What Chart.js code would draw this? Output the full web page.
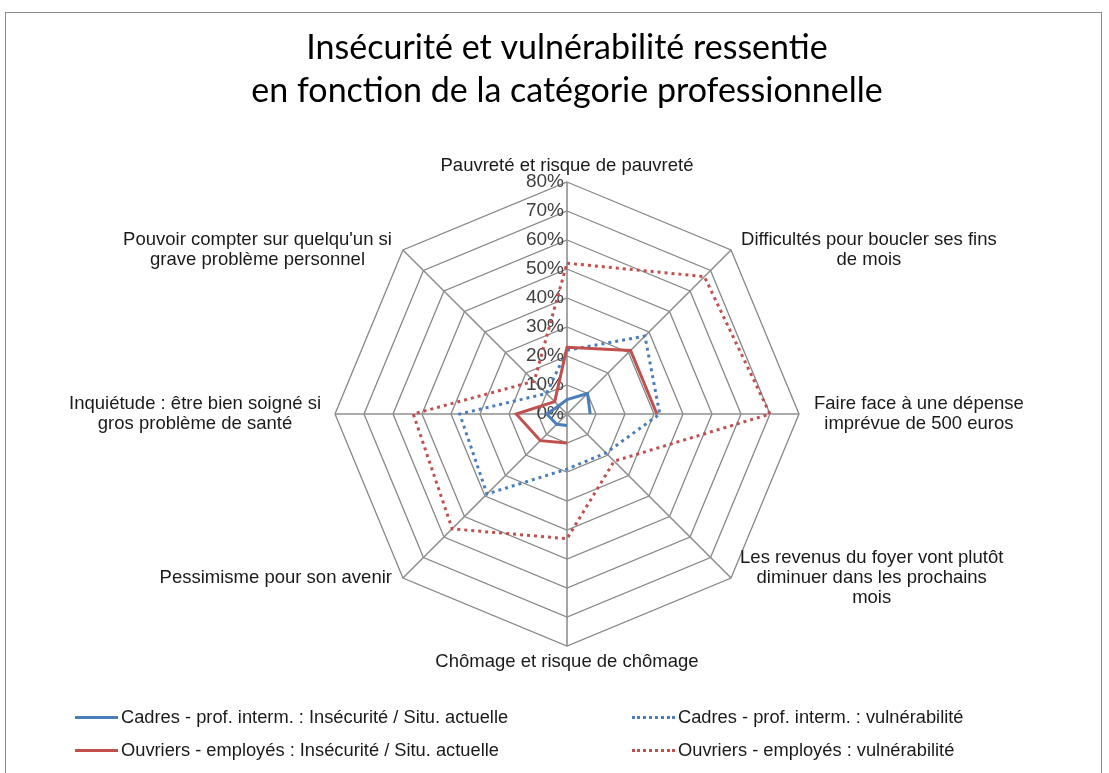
<!DOCTYPE html>
<html lang="fr">
  <head>
    <meta charset="UTF-8" />
    <title>Insécurité et vulnérabilité ressentie</title>
    <script src="https://cdn.jsdelivr.net/npm/chart.js"></script>
    <style>
      body { margin: 0; background: #fff; font-family: "Liberation Sans", Arial, sans-serif; }
      #frame { position: absolute; left: 5px; top: 12px; width: 1095px; height: 800px; border: 1px solid #8a8a8a; }
      #chart { position: absolute; left: 0; top: 0; }
      .legend-item { position: absolute; display: flex; align-items: center; font-size: 18.3px; color: #1a1a1a; white-space: nowrap; }
      .legend-item .swatch { width: 43px; height: 0; margin-right: 3px; }
    </style>
  </head>
  <body>
    <div id="frame"></div>
    <canvas id="chart" width="1109" height="773"></canvas>
    <div id="legend"></div>

    <script>
      // axes of the radar, clockwise from the top
      const categories = [
        "Pauvreté et risque de pauvreté",
        ["Difficultés pour boucler ses fins", "de mois"],
        ["Faire face à une dépense", "imprévue de 500 euros"],
        ["Les revenus du foyer vont plutôt", "diminuer dans les prochains", "mois"],
        "Chômage et risque de chômage",
        "Pessimisme pour son avenir",
        ["Inquiétude : être bien soigné si", "gros problème de santé"],
        ["Pouvoir compter sur quelqu'un si", "grave problème personnel"],
      ];

      // values in %, null where the series has no value
      const cadresInsecurite = [5, 10, 8, null, 4, 5, 7, 4];
      const cadresVulnerabilite = [22, 38, 32, 19, 19, 39, 37, 10];
      const ouvriersInsecurite = [23, 31, 31, null, 10, 13, 17.5, 6];
      const ouvriersVulnerabilite = [52, 67, 70, 23, 43, 56, 53, 16];

      const seriesNames = [
        "Cadres - prof. interm. : Insécurité / Situ. actuelle",
        "Cadres - prof. interm. : vulnérabilité",
        "Ouvriers - employés : Insécurité / Situ. actuelle",
        "Ouvriers - employés : vulnérabilité",
      ];

      const blue = "#4a7ebb";
      const red = "#c0504d";
      const dots = [3, 4];

      const datasets = [
        { label: seriesNames[0], data: cadresInsecurite, borderColor: blue, borderDash: [], order: 0 },
        { label: seriesNames[1], data: cadresVulnerabilite, borderColor: blue, borderDash: dots, order: 2 },
        { label: seriesNames[2], data: ouvriersInsecurite, borderColor: red, borderDash: [], order: 1 },
        { label: seriesNames[3], data: ouvriersVulnerabilite, borderColor: red, borderDash: dots, order: 3 },
      ].map((d) => ({
        ...d,
        borderWidth: 3,
        fill: false,
        pointRadius: 0,
        pointHoverRadius: 0,
        spanGaps: false,
        backgroundColor: "transparent",
      }));

      const labelFont = '18.5px "Liberation Sans", Arial, sans-serif';
      const tickFont = '19px "Liberation Sans", Arial, sans-serif';
      const textColor = "#1a1a1a";

      // where each axis label sits relative to the outer vertex
      const labelPlace = [
        { side: "top", gap: 16 },
        { side: "right", gap: 10 },
        { side: "right", gap: 15 },
        { side: "right", gap: 9 },
        { side: "bottom", gap: 16 },
        { side: "left", gap: 11 },
        { side: "left", gap: 14 },
        { side: "left", gap: 11 },
      ];

      const radarText = {
        id: "radarText",
        beforeDatasetsDraw(chart) {
          const s = chart.scales.r;
          const ctx = chart.ctx;
          ctx.save();
          ctx.font = tickFont;
          ctx.fillStyle = "#404040";
          ctx.textAlign = "right";
          ctx.textBaseline = "middle";
          s.ticks.forEach((t) => {
            const d = s.getDistanceFromCenterForValue(t.value);
            ctx.fillText(t.value + "%", s.xCenter - 3, s.yCenter - d);
          });
          ctx.restore();
        },
        afterDraw(chart) {
          const s = chart.scales.r;
          const ctx = chart.ctx;
          ctx.save();
          ctx.font = labelFont;
          ctx.fillStyle = textColor;
          ctx.textAlign = "center";
          ctx.textBaseline = "middle";
          const lh = 20;
          categories.forEach((lab, i) => {
            const lines = [].concat(lab);
            const p = s.getPointPosition(i, s.drawingArea);
            const w = Math.max(...lines.map((l) => ctx.measureText(l).width));
            const pl = labelPlace[i];
            let cx = p.x;
            let y0 = p.y - ((lines.length - 1) * lh) / 2;
            if (pl.side === "top") y0 = p.y - pl.gap;
            if (pl.side === "bottom") y0 = p.y + pl.gap;
            if (pl.side === "right") cx = p.x + pl.gap + w / 2;
            if (pl.side === "left") cx = p.x - pl.gap - w / 2;
            lines.forEach((l, k) => ctx.fillText(l, cx, y0 + k * lh));
          });
          ctx.restore();
        },
      };

      new Chart(document.getElementById("chart"), {
        type: "radar",
        data: { labels: categories, datasets: datasets },
        plugins: [radarText],
        options: {
          responsive: false,
          animation: false,
          layout: { padding: { top: 12, left: 100, right: 75, bottom: 126 } },
          plugins: {
            legend: { display: false },
            tooltip: { enabled: false },
            title: {
              display: true,
              text: [
                "Insécurité et vulnérabilité ressentie",
                "en fonction de la catégorie professionnelle",
              ],
              color: "#000",
              font: { family: "Lato", size: 34, weight: "normal", lineHeight: 1.27 },
              padding: { top: 14, bottom: 69 },
            },
          },
          scales: {
            r: {
              min: 0,
              max: 80,
              ticks: { stepSize: 10, display: false, showLabelBackdrop: false },
              pointLabels: { display: false },
              grid: { color: "#878787", lineWidth: 1.3 },
              angleLines: { color: "#8f8f8f", lineWidth: 1.6 },
            },
          },
        },
      });

      // legend in two columns under the chart
      const legendPos = [
        { left: 75, top: 717 },
        { left: 632, top: 717 },
        { left: 75, top: 750 },
        { left: 632, top: 750 },
      ];
      const legend = document.getElementById("legend");
      datasets.forEach((d, i) => {
        const item = document.createElement("div");
        item.className = "legend-item";
        item.style.left = legendPos[i].left + "px";
        item.style.top = legendPos[i].top - 10 + "px";
        item.style.height = "20px";
        const sw = document.createElement("span");
        sw.className = "swatch";
        sw.style.borderTop = d.borderDash.length
          ? "3px dotted " + d.borderColor
          : "3px solid " + d.borderColor;
        const tx = document.createElement("span");
        tx.textContent = d.label;
        item.appendChild(sw);
        item.appendChild(tx);
        legend.appendChild(item);
      });
    </script>
  </body>
</html>
